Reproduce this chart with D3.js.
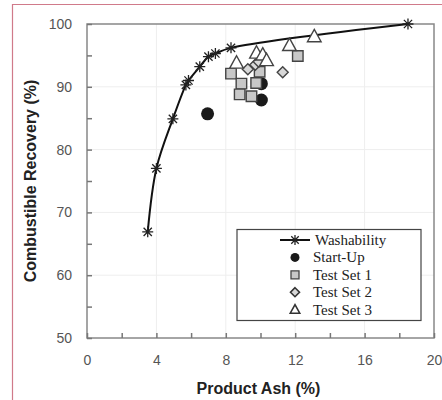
<!DOCTYPE html>
<html lang="en">
<head>
<meta charset="utf-8">
<style>
  body { margin: 0; background: white; }
  svg { background: white; display: block; }
  .tick text { font-family: "Liberation Sans", Arial, sans-serif; font-size: 14px; fill: #555; }
  .axis-title { font-family: "Liberation Sans", Arial, sans-serif; font-size: 16px; font-weight: bold; fill: #222; }
  .legend text { font-family: "Liberation Serif", "Times New Roman", serif; font-size: 15px; fill: #222; }
</style>
<script src="https://cdn.jsdelivr.net/npm/d3@7"></script>
</head>
<body>
<script>
// washability curve
var washAsh = [3.5, 4.0, 4.95, 5.7, 5.85, 6.5, 7.0, 7.4, 8.3, 18.5];
var washRec = [66.9, 77.0, 84.9, 90.3, 91.0, 93.2, 94.8, 95.3, 96.2, 100];

var startAsh = [6.95, 10.05, 10.05];
var startRec = [85.7, 90.5, 87.9];

var set1Ash = [8.3, 8.9, 8.8, 9.48, 9.75, 9.95, 12.15];
var set1Rec = [92.1, 90.5, 88.8, 88.5, 90.6, 92.4, 94.9];

var set2Ash = [9.27, 9.7, 9.9, 11.28];
var set2Rec = [92.8, 93.5, 94.0, 92.3];

var set3Ash = [8.62, 9.77, 10.13, 10.35, 11.67, 13.1];
var set3Rec = [93.8, 95.4, 95.1, 94.2, 96.6, 98.0];

var xTicks = [0, 4, 8, 12, 16, 20];
var yTicks = [50, 60, 70, 80, 90, 100];
var legendNames = ["Washability", "Start-Up", "Test Set 1", "Test Set 2", "Test Set 3"];

var width = 442, height = 400;
var pLeft = 87, pRight = 434, pTop = 24, pBottom = 338;

var svg = d3.select("body").append("svg")
  .attr("width", width)
  .attr("height", height);

// page frame
svg.append("path")
  .attr("d", "M12.5," + height + "V4.5H" + width)
  .attr("fill", "none")
  .attr("stroke", "#d07a8a")
  .attr("stroke-width", 1.2);

var x = d3.scaleLinear().domain([0, 20]).range([pLeft, pRight]);
var y = d3.scaleLinear().domain([50, 100]).range([pBottom, pTop]);

// grid
svg.append("g").selectAll("line")
  .data(xTicks.slice(1, -1)).enter().append("line")
  .attr("x1", function(d) { return x(d); }).attr("x2", function(d) { return x(d); })
  .attr("y1", pTop).attr("y2", pBottom)
  .attr("stroke", "#eee");
svg.append("g").selectAll("line")
  .data(yTicks.slice(1, -1)).enter().append("line")
  .attr("y1", function(d) { return y(d); }).attr("y2", function(d) { return y(d); })
  .attr("x1", pLeft).attr("x2", pRight)
  .attr("stroke", "#eee");

// frame
svg.append("rect")
  .attr("x", pLeft).attr("y", pTop)
  .attr("width", pRight - pLeft).attr("height", pBottom - pTop)
  .attr("fill", "none").attr("stroke", "#888").attr("stroke-width", 1.5);

// axes, ticks pointing inside
var xAxis = svg.append("g").attr("transform", "translate(0," + pBottom + ")")
  .call(d3.axisBottom(x).tickValues(d3.range(0, 21, 2)).tickSize(-5).tickPadding(17)
    .tickFormat(function(d) { return xTicks.indexOf(d) >= 0 ? d : ""; }));
var yAxis = svg.append("g").attr("transform", "translate(" + pLeft + ",0)")
  .call(d3.axisLeft(y).tickValues(d3.range(50, 101, 5)).tickSize(-5).tickPadding(15)
    .tickFormat(function(d) { return yTicks.indexOf(d) >= 0 ? d : ""; }));
[xAxis, yAxis].forEach(function(a) {
  a.select(".domain").remove();
  a.selectAll(".tick line").attr("stroke", "#777").attr("stroke-width", 1.5);
});

svg.append("text").attr("class", "axis-title")
  .attr("x", (pLeft + pRight) / 2 - 2).attr("y", 394)
  .attr("text-anchor", "middle").text("Product Ash (%)");
svg.append("text").attr("class", "axis-title")
  .attr("transform", "translate(36," + ((pTop + pBottom) / 2) + ") rotate(-90)")
  .attr("text-anchor", "middle").text("Combustible Recovery (%)");

// markers
function star(s) {
  var h = s / 2, d = h * 0.75;
  return "M0," + (-h) + "V" + h + "M" + (-h) + ",0H" + h +
    "M" + (-d) + "," + (-d) + "L" + d + "," + d + "M" + (-d) + "," + d + "L" + d + "," + (-d);
}
function square(s) { var h = s / 2; return "M" + (-h) + "," + (-h) + "h" + s + "v" + s + "h" + (-s) + "Z"; }
function diamond(s) { var h = s / 2; return "M0," + (-h) + "L" + h + ",0L0," + h + "L" + (-h) + ",0Z"; }
function triangle(s) { var h = s / 2; return "M0," + (-h * 1.1) + "L" + (h * 1.05) + "," + (h * 0.8) + "L" + (-h * 1.05) + "," + (h * 0.8) + "Z"; }

function pts(a, b) { return a.map(function(v, i) { return [v, b[i]]; }); }

var line = d3.line()
  .x(function(d) { return x(d[0]); })
  .y(function(d) { return y(d[1]); })
  .curve(d3.curveCatmullRom.alpha(0.5));

svg.append("path")
  .datum(pts(washAsh, washRec))
  .attr("d", line)
  .attr("fill", "none").attr("stroke", "#111").attr("stroke-width", 2);

svg.append("g").selectAll("path")
  .data(pts(washAsh, washRec)).enter().append("path")
  .attr("transform", function(d) { return "translate(" + x(d[0]) + "," + y(d[1]) + ")"; })
  .attr("d", star(11))
  .attr("stroke", "#222").attr("stroke-width", 1.3).attr("fill", "none");

svg.append("g").selectAll("circle")
  .data(pts(startAsh, startRec)).enter().append("circle")
  .attr("cx", function(d) { return x(d[0]); })
  .attr("cy", function(d) { return y(d[1]); })
  .attr("r", 6.5).attr("fill", "#1a1a1a");

function drawSet(data, shape, size, fill) {
  svg.append("g").selectAll("path")
    .data(data).enter().append("path")
    .attr("transform", function(d) { return "translate(" + x(d[0]) + "," + y(d[1]) + ")"; })
    .attr("d", shape(size))
    .attr("fill", fill).attr("stroke", "#444").attr("stroke-width", 1.4);
}
drawSet(pts(set1Ash, set1Rec), square, 10.5, "#c8c8c8");
drawSet(pts(set2Ash, set2Rec), diamond, 11, "#d8d8d8");
drawSet(pts(set3Ash, set3Rec), triangle, 13, "#ffffff");

// legend
var lg = svg.append("g").attr("class", "legend");
lg.append("rect")
  .attr("x", 237).attr("y", 229.5).attr("width", 184).attr("height", 91)
  .attr("fill", "white").attr("stroke", "#444").attr("stroke-width", 1.2);

var rowY = d3.range(legendNames.length).map(function(i) { return 240 + i * 17.4; });
var sx = 295;
lg.append("line").attr("x1", 280).attr("x2", 310).attr("y1", rowY[0]).attr("y2", rowY[0])
  .attr("stroke", "#111").attr("stroke-width", 2);
lg.append("path").attr("transform", "translate(" + sx + "," + rowY[0] + ")")
  .attr("d", star(10)).attr("stroke", "#222").attr("stroke-width", 1.3).attr("fill", "none");
lg.append("circle").attr("cx", sx).attr("cy", rowY[1]).attr("r", 4.5).attr("fill", "#1a1a1a");
lg.append("path").attr("transform", "translate(" + sx + "," + rowY[2] + ")")
  .attr("d", square(8)).attr("fill", "#c8c8c8").attr("stroke", "#444").attr("stroke-width", 1.3);
lg.append("path").attr("transform", "translate(" + sx + "," + rowY[3] + ")")
  .attr("d", diamond(9)).attr("fill", "#d8d8d8").attr("stroke", "#333").attr("stroke-width", 1.6);
lg.append("path").attr("transform", "translate(" + sx + "," + rowY[4] + ")")
  .attr("d", triangle(9)).attr("fill", "white").attr("stroke", "#333").attr("stroke-width", 1.6);

lg.selectAll("text.lbl")
  .data(legendNames).enter().append("text")
  .attr("x", function(d, i) { return i === 0 ? 315 : 313; })
  .attr("y", function(d, i) { return rowY[i] + 5; })
  .text(function(d) { return d; });
</script>
</body>
</html>
